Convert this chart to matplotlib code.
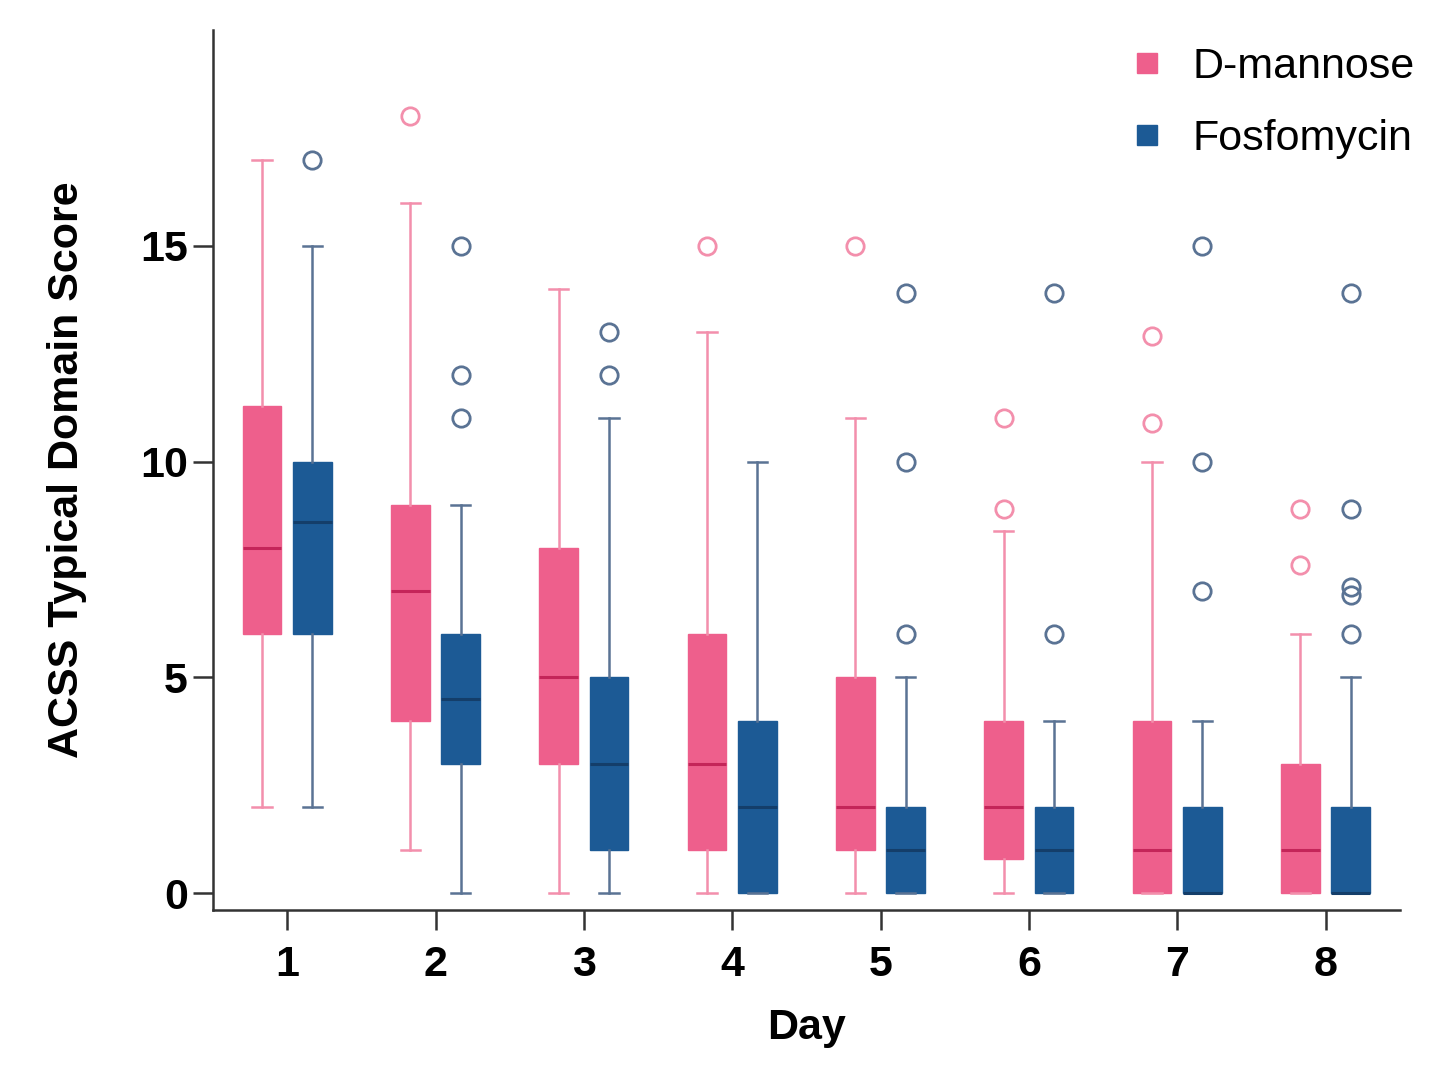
import numpy as np
import matplotlib.pyplot as plt
from matplotlib.lines import Line2D

# ── data ──────────────────────────────────────────────────────────────────────
days = [1, 2, 3, 4, 5, 6, 7, 8]

man_whislo = [2, 1, 0, 0, 0, 0, 0, 0]
man_q1     = [6, 4, 3, 1, 1, 0.8, 0, 0]
man_med    = [8, 7, 5, 3, 2, 2, 1, 1]
man_q3     = [11.3, 9, 8, 6, 5, 4, 4, 3]
man_whishi = [17, 16, 14, 13, 11, 8.4, 10, 6]
man_fliers = [[], [18], [], [15], [15], [11, 8.9], [12.9, 10.9], [8.9, 7.6]]

fos_whislo = [2, 0, 0, 0, 0, 0, 0, 0]
fos_q1     = [6, 3, 1, 0, 0, 0, 0, 0]
fos_med    = [8.6, 4.5, 3, 2, 1, 1, 0, 0]
fos_q3     = [10, 6, 5, 4, 2, 2, 2, 2]
fos_whishi = [15, 9, 11, 10, 5, 4, 4, 5]
fos_fliers = [[17], [15, 12, 11], [13, 12], [], [13.9, 10, 6], [13.9, 6],
              [15, 10, 7], [13.9, 8.9, 7.1, 6.9, 6]]

# ── styling ───────────────────────────────────────────────────────────────────
plt.rcParams['font.family'] = ['Liberation Sans', 'DejaVu Sans']

PINK       = '#ee5f8c'
PINK_MED   = '#c42559'
PINK_WHISK = '#f38fac'
BLUE       = '#1c5a95'
BLUE_MED   = '#143e6a'
BLUE_WHISK = '#5a7394'
FS = 31


def _stats(whislo, q1, med, q3, whishi, fliers):
    return [dict(whislo=a, q1=b, med=c, q3=d, whishi=e, fliers=f)
            for a, b, c, d, e, f in zip(whislo, q1, med, q3, whishi, fliers)]


fig = plt.figure(figsize=(14.55, 10.81), dpi=100)
ax = fig.add_axes([0.1464, 0.1582, 0.962 - 0.1464, 0.9722 - 0.1582])

offset = 0.17
width = 0.26

for stats, pos, face, med, whisk in [
    (_stats(man_whislo, man_q1, man_med, man_q3, man_whishi, man_fliers),
     np.array(days) - offset, PINK, PINK_MED, PINK_WHISK),
    (_stats(fos_whislo, fos_q1, fos_med, fos_q3, fos_whishi, fos_fliers),
     np.array(days) + offset, BLUE, BLUE_MED, BLUE_WHISK),
]:
    ax.bxp(stats, positions=pos, widths=width, patch_artist=True,
           capwidths=0.13, manage_ticks=False,
           boxprops=dict(facecolor=face, edgecolor=face, linewidth=1),
           medianprops=dict(color=med, linewidth=2.2),
           whiskerprops=dict(color=whisk, linewidth=1.8),
           capprops=dict(color=whisk, linewidth=1.8),
           flierprops=dict(marker='o', markerfacecolor='none',
                           markeredgecolor=whisk, markersize=12.5,
                           markeredgewidth=2))

# ── formatting ───────────────────────────────────────────────────────────────
ax.set_xlim(0.5, 8.5)
ax.set_ylim(-0.39, 20)
ax.set_xticks(days)
ax.set_yticks([0, 5, 10, 15])
ax.tick_params(labelsize=FS, length=14.5, width=1.8, color='#333333')
ax.tick_params(axis='x', pad=11)
for lab in ax.get_xticklabels() + ax.get_yticklabels():
    lab.set_fontweight('bold')
for s in ('top', 'right'):
    ax.spines[s].set_visible(False)
for s in ('left', 'bottom'):
    ax.spines[s].set_linewidth(1.8)
    ax.spines[s].set_color('#333333')

ax.set_xlabel('Day', fontsize=FS, fontweight='bold', labelpad=16)
ax.set_ylabel('ACSS Typical Domain Score', fontsize=FS, fontweight='bold',
              labelpad=38)

handles = [Line2D([0], [0], marker='s', linestyle='none', markersize=15,
                  color=PINK, label='D-mannose'),
           Line2D([0], [0], marker='s', linestyle='none', markersize=15,
                  color=BLUE, label='Fosfomycin')]
ax.legend(handles=handles, loc='upper right', bbox_to_anchor=(1.045, 1.025),
          frameon=False, fontsize=FS, handletextpad=0.05, labelspacing=0.75)

fig.savefig('out.png', dpi=100)
